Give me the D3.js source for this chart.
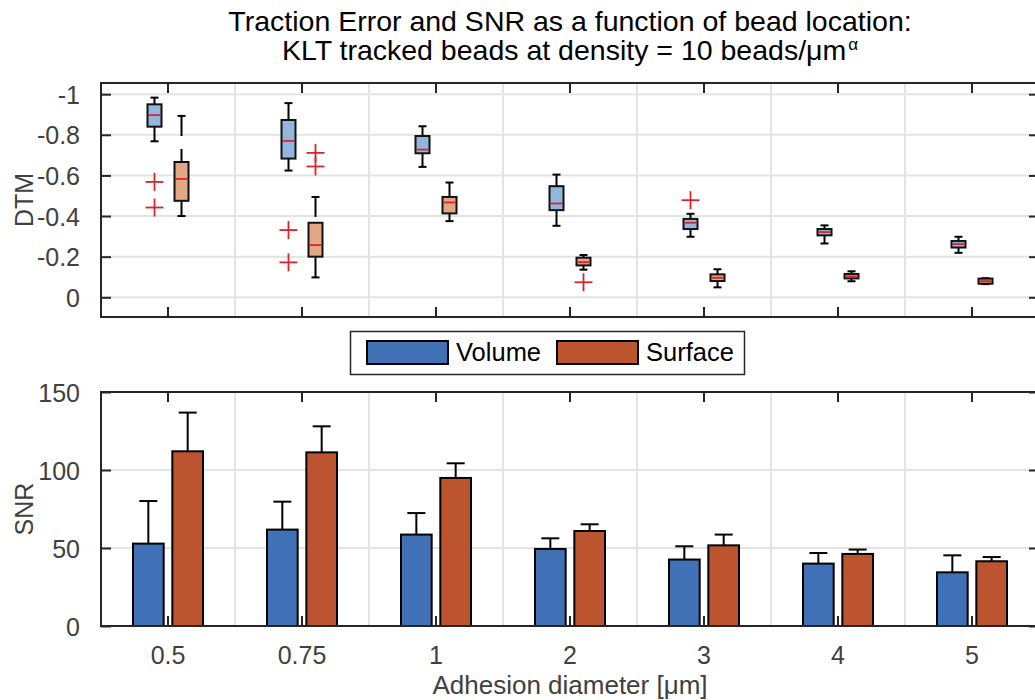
<!DOCTYPE html>
<html><head><meta charset="utf-8">
<script src="https://cdn.jsdelivr.net/npm/d3@7"></script>
<style>
body{margin:0;background:#fff;}
svg{display:block;font-family:"Liberation Sans",Arial,Helvetica,sans-serif;}
</style></head>
<body><svg id="c" width="1035" height="700"></svg>
<script>
// ---------- data ----------
const categories = ["0.5","0.75","1","2","3","4","5"];
const seriesNames = ["Volume","Surface"];
// box stats: [lower whisker, q1, median, q3, upper whisker] (DTM values)
const volumeBox = [
  [-0.983,-0.950,-0.897,-0.840,-0.768],
  [-0.956,-0.873,-0.770,-0.683,-0.624],
  [-0.842,-0.794,-0.727,-0.709,-0.642],
  [-0.604,-0.547,-0.462,-0.429,-0.352],
  [-0.411,-0.386,-0.367,-0.336,-0.298],
  [-0.354,-0.336,-0.321,-0.305,-0.265],
  [-0.298,-0.277,-0.262,-0.245,-0.219]
];
const surfaceBox = [
  [-0.893,-0.666,-0.583,-0.475,-0.400],
  [-0.494,-0.367,-0.257,-0.200,-0.098],
  [-0.565,-0.494,-0.467,-0.413,-0.375],
  [-0.208,-0.195,-0.173,-0.157,-0.136],
  [-0.138,-0.113,-0.096,-0.080,-0.049],
  [-0.128,-0.115,-0.103,-0.093,-0.079],
  [-0.094,-0.092,-0.080,-0.067,-0.065]
];
const volumeOutliers  = [[-0.568,-0.442],[-0.331,-0.172],[],[],[-0.478],[],[]];
const surfaceOutliers = [[],[-0.711,-0.644],[],[-0.074],[],[],[]];
const volumeSNR  = [52.8, 61.8, 58.6, 49.4, 42.6, 40.0, 34.4];
const volumeErr  = [27.3, 17.9, 13.8, 6.8, 8.5, 6.8, 10.9];
const surfaceSNR = [112.0, 111.3, 94.9, 60.9, 51.7, 46.2, 41.5];
const surfaceErr = [24.8, 16.7, 9.4, 4.3, 6.9, 2.8, 2.7];
const dtmTicks = [-1,-0.8,-0.6,-0.4,-0.2,0];
const dtmTickLabels = ["-1","-0.8","-0.6","-0.4","-0.2","0"];
const snrTicks = [0,50,100,150];
const titleLines = ["Traction Error and SNR as a function of bead location:", "KLT tracked beads at density = 10 beads/\u03BCm"];
const xLabel = "Adhesion diameter [\u03BCm]";

// ---------- layout ----------
const svg = d3.select("#c");
const L = 101, R = 1039;
const top1 = 83, bot1 = 317, top2 = 392, bot2 = 626;
const colors = {Volume:"#4071b7", Surface:"#bd5430"};
const light  = {Volume:"#93b6dd", Surface:"#e2a886"};
const axisCol = "#262626", gridCol = "#e3e3e3", tickText = "#404040";
const tickFont = "25px";

const x = d3.scaleBand().domain(categories).range([L, R]).padding(0);
const bw = x.bandwidth();
const xBar = d3.scaleBand().domain(seriesNames).range([bw/2-35, bw/2+35]).paddingInner(0.22);
const xBox = d3.scaleBand().domain(seriesNames).range([bw/2-27, bw/2+27]);
const y1 = d3.scaleLinear().domain([-1.055, 0.097]).range([top1, bot1]);
const y2 = d3.scaleLinear().domain([0, 150]).range([bot2, top2]);

function frame(g, y, ticks, top, bot){
  g.append("g").selectAll("line").data(ticks).join("line")
    .attr("x1", L).attr("x2", R).attr("y1", d=>y(d)).attr("y2", d=>y(d))
    .attr("stroke", gridCol).attr("stroke-width", 2);
  g.append("g").selectAll("line").data(categories.slice(0,-1)).join("line")
    .attr("x1", d=>x(d)+bw).attr("x2", d=>x(d)+bw).attr("y1", top).attr("y2", bot)
    .attr("stroke", gridCol).attr("stroke-width", 2);
}
function axes(g, y, ticks, top, bot, fmt, showX){
  const ay = g.append("g").attr("transform", `translate(${L},0)`)
    .call(d3.axisLeft(y).tickValues(ticks).tickSize(-10).tickPadding(21).tickFormat(fmt));
  ay.select(".domain").remove();
  ay.selectAll("line").attr("stroke", axisCol).attr("stroke-width", 2);
  ay.selectAll("text").attr("fill", tickText).style("font-size",tickFont).attr("dy","0.36em");
  const ar = g.append("g").attr("transform", `translate(${R},0)`)
    .call(d3.axisRight(y).tickValues(ticks).tickSize(-10).tickFormat(""));
  ar.select(".domain").remove();
  ar.selectAll("line").attr("stroke", axisCol).attr("stroke-width", 2);
  const ab = g.append("g").attr("transform", `translate(0,${bot})`)
    .call(d3.axisBottom(x).tickSize(-10).tickPadding(20).tickFormat(showX ? (d=>d) : ""));
  ab.select(".domain").remove();
  ab.selectAll("line").attr("stroke", axisCol).attr("stroke-width", 2);
  ab.selectAll("text").attr("fill", tickText).style("font-size",tickFont);
  const at = g.append("g").attr("transform", `translate(0,${top})`)
    .call(d3.axisTop(x).tickSize(-10).tickFormat(""));
  at.select(".domain").remove();
  at.selectAll("line").attr("stroke", axisCol).attr("stroke-width", 2);
  g.append("rect").attr("x", L).attr("y", top).attr("width", R-L).attr("height", bot-top)
    .attr("fill","none").attr("stroke", axisCol).attr("stroke-width", 2);
}

// ---------- top: boxplots ----------
const g1 = svg.append("g");
frame(g1, y1, dtmTicks, top1, bot1);
const boxData = [];
categories.forEach((c,i)=>{
  boxData.push({cat:c, s:"Volume", st:volumeBox[i], out:volumeOutliers[i]});
  boxData.push({cat:c, s:"Surface", st:surfaceBox[i], out:surfaceOutliers[i]});
});
const boxW = 14, capW = 8;
const bx = g1.append("g").selectAll("g").data(boxData).join("g")
  .attr("transform", d=>`translate(${x(d.cat)+xBox(d.s)+xBox.bandwidth()/2},0)`);
bx.append("line").attr("x1",0).attr("x2",0)
  .attr("y1", d=>y1(d.st[0])).attr("y2", d=>y1(d.st[1]))
  .attr("stroke","#000").attr("stroke-width",2).attr("stroke-dasharray","20,13");
bx.append("line").attr("x1",0).attr("x2",0)
  .attr("y1", d=>y1(d.st[4])).attr("y2", d=>y1(d.st[3]))
  .attr("stroke","#000").attr("stroke-width",2).attr("stroke-dasharray","20,13");
bx.append("line").attr("x1",-capW/2).attr("x2",capW/2)
  .attr("y1", d=>y1(d.st[0])).attr("y2", d=>y1(d.st[0])).attr("stroke","#000").attr("stroke-width",2);
bx.append("line").attr("x1",-capW/2).attr("x2",capW/2)
  .attr("y1", d=>y1(d.st[4])).attr("y2", d=>y1(d.st[4])).attr("stroke","#000").attr("stroke-width",2);
bx.append("rect").attr("x",-boxW/2).attr("width",boxW)
  .attr("y", d=>y1(d.st[1])).attr("height", d=>Math.max(1, y1(d.st[3])-y1(d.st[1])))
  .attr("fill", d=>light[d.s]).attr("stroke","#111").attr("stroke-width",2);
bx.append("line").attr("x1",-boxW/2+1).attr("x2",boxW/2-1)
  .attr("y1", d=>y1(d.st[2])).attr("y2", d=>y1(d.st[2])).attr("stroke","#d7262b").attr("stroke-width",1.8);
const plusS = 9;
bx.each(function(d){
  const gg = d3.select(this);
  d.out.forEach(v=>{
    gg.append("line").attr("x1",-plusS).attr("x2",plusS).attr("y1",y1(v)).attr("y2",y1(v))
      .attr("stroke","#d7262b").attr("stroke-width",1.8);
    gg.append("line").attr("x1",0).attr("x2",0).attr("y1",y1(v)-plusS).attr("y2",y1(v)+plusS)
      .attr("stroke","#d7262b").attr("stroke-width",1.8);
  });
});
axes(g1, y1, dtmTicks, top1, bot1, (d,i)=>dtmTickLabels[i], false);

// ---------- bottom: bars ----------
const g2 = svg.append("g");
frame(g2, y2, snrTicks, top2, bot2);
const barData = [];
categories.forEach((c,i)=>{
  barData.push({cat:c, s:"Volume", v:volumeSNR[i], e:volumeErr[i]});
  barData.push({cat:c, s:"Surface", v:surfaceSNR[i], e:surfaceErr[i]});
});
const bars = g2.append("g").selectAll("g").data(barData).join("g")
  .attr("transform", d=>`translate(${x(d.cat)+xBar(d.s)},0)`);
bars.append("line").attr("x1", xBar.bandwidth()/2).attr("x2", xBar.bandwidth()/2)
  .attr("y1", d=>y2(d.v)).attr("y2", d=>y2(d.v+d.e)).attr("stroke","#000").attr("stroke-width",2);
bars.append("line").attr("x1", xBar.bandwidth()/2-9).attr("x2", xBar.bandwidth()/2+9)
  .attr("y1", d=>y2(d.v+d.e)).attr("y2", d=>y2(d.v+d.e)).attr("stroke","#000").attr("stroke-width",2);
bars.append("rect").attr("x",0).attr("width", xBar.bandwidth())
  .attr("y", d=>y2(d.v)).attr("height", d=>y2(0)-y2(d.v))
  .attr("fill", d=>colors[d.s]).attr("stroke","#000").attr("stroke-width",2);
axes(g2, y2, snrTicks, top2, bot2, d=>d, true);

// ---------- labels ----------
svg.append("text").attr("x", (L+R)/2).attr("y", 31).attr("text-anchor","middle")
  .style("font-size","28.5px").attr("fill","#000").text(titleLines[0]);
const t2 = svg.append("text").attr("x", (L+R)/2).attr("y", 60).attr("text-anchor","middle")
  .style("font-size","28.5px").attr("fill","#000");
t2.append("tspan").text(titleLines[1]);
t2.append("tspan").attr("dx",2).attr("dy",-10).style("font-size","17px").text("\u03B1");

svg.append("text").attr("transform",`translate(33,${(top1+bot1)/2}) rotate(-90)`)
  .attr("text-anchor","middle").style("font-size","25px").attr("fill",tickText).text("DTM");
svg.append("text").attr("transform",`translate(33,${(top2+bot2)/2}) rotate(-90)`)
  .attr("text-anchor","middle").style("font-size","25px").attr("fill",tickText).text("SNR");
svg.append("text").attr("x",(L+R)/2).attr("y",694).attr("text-anchor","middle")
  .style("font-size","26px").attr("fill",tickText).text(xLabel);

// ---------- legend ----------
const lg = svg.append("g");
lg.append("rect").attr("x",350.5).attr("y",331.5).attr("width",394).attr("height",43)
  .attr("fill","#fff").attr("stroke",axisCol).attr("stroke-width",1.5);
const legItems = [{s:"Volume", x:367, tx:456},{s:"Surface", x:557, tx:646}];
legItems.forEach(it=>{
  lg.append("rect").attr("x",it.x).attr("y",341).attr("width",81).attr("height",23)
    .attr("fill",colors[it.s]).attr("stroke","#000").attr("stroke-width",2);
  lg.append("text").attr("x",it.tx).attr("y",361).style("font-size","25.5px").attr("fill","#000").text(it.s);
});
</script></body></html>
